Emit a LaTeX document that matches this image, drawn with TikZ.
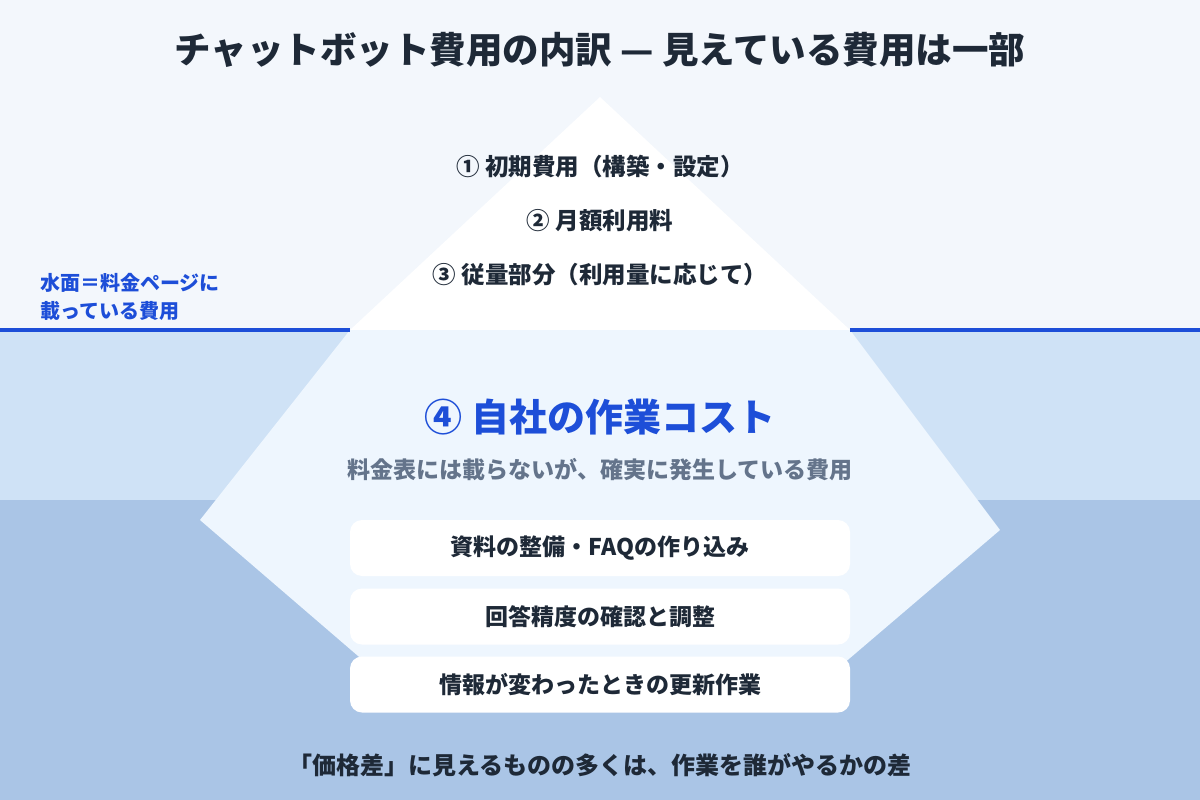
\documentclass[tikz,border=0pt]{standalone}
\usepackage{fontspec}
\setmainfont{Noto Sans CJK JP}
\definecolor{ink}{HTML}{1E2937}
\definecolor{accent}{HTML}{1D4ED8}
\definecolor{muted}{HTML}{64748B}
\definecolor{bgtop}{HTML}{F3F7FC}
\definecolor{bgmid}{HTML}{CFE2F6}
\definecolor{bgbot}{HTML}{AAC5E6}
\definecolor{berg}{HTML}{EEF6FE}
\begin{document}
\begin{tikzpicture}[x=1pt,y=-1pt,
  txt/.style={inner sep=0pt, text=ink, font=\bfseries\fontsize{23.5}{27}\selectfont},
  item/.style={fill=white, rounded corners=12pt, minimum width=500pt, minimum height=56pt,
    inner sep=0pt, text=ink, font=\bfseries\fontsize{23}{27}\selectfont}]
\useasboundingbox (0,0) rectangle (1200,800);
% backgrounds
\fill[bgtop] (0,0) rectangle (1200,330);
\fill[bgmid] (0,330) rectangle (1200,500);
\fill[bgbot] (0,500) rectangle (1200,800);
% iceberg
\fill[white] (600,97) -- (350,330) -- (850,330) -- cycle;
\fill[berg] (350,330) -- (200,520) -- (415,705) -- (795,705) -- (1000,530) -- (850,330) -- cycle;
% water line
\coordinate (wl1) at (0,330);
\coordinate (wl2) at (350,330);
\coordinate (wr1) at (850,330);
\coordinate (wr2) at (1200,330);
\draw[accent, line width=4pt] (wl1) -- (wl2) (wr1) -- (wr2);
% title
\node[txt, font=\bfseries\fontsize{36.5}{40}\selectfont] (title) at (600,50) {チャットボット費用の内訳 — 見えている費用は一部};
% visible costs
\node[txt] (c1) at (600,167) {① 初期費用（構築・設定）};
\node[txt] (c2) at (600,221) {② 月額利用料};
\node[txt] (c3) at (600,275) {③ 従量部分（利用量に応じて）};
% water label
\node[txt, text=accent, anchor=west, align=left, font=\bfseries\fontsize{20}{28}\selectfont] (wlabel) at (40,297) {水面＝料金ページに\\載っている費用};
% hidden costs
\node[txt, text=accent, font=\bfseries\fontsize{38}{42}\selectfont] (c4) at (600,417) {④ 自社の作業コスト};
\node[txt, text=muted, font=\bfseries\fontsize{23}{27}\selectfont] (sub) at (600,470) {料金表には載らないが、確実に発生している費用};
\node[item] (b1) at (600,548) {資料の整備・FAQの作り込み};
\node[item] (b2) at (600,616.5) {回答精度の確認と調整};
\node[item] (b3) at (600,684.5) {情報が変わったときの更新作業};
% bottom message
\node[txt, font=\bfseries\fontsize{24}{28}\selectfont] (msg) at (600,765) {「価格差」に見えるものの多くは、作業を誰がやるかの差};
\end{tikzpicture}
\end{document}
